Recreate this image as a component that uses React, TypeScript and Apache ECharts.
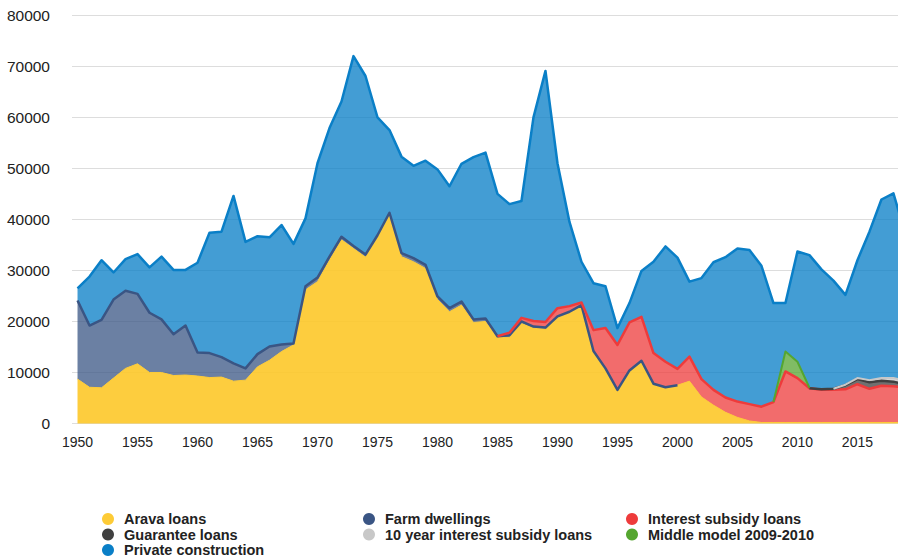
import React, { useEffect, useRef } from "react";
import * as echarts from "echarts";

const years = [
  1950, 1951, 1952, 1953, 1954, 1955, 1956, 1957, 1958, 1959,
  1960, 1961, 1962, 1963, 1964, 1965, 1966, 1967, 1968, 1969,
  1970, 1971, 1972, 1973, 1974, 1975, 1976, 1977, 1978, 1979,
  1980, 1981, 1982, 1983, 1984, 1985, 1986, 1987, 1988, 1989,
  1990, 1991, 1992, 1993, 1994, 1995, 1996, 1997, 1998, 1999,
  2000, 2001, 2002, 2003, 2004, 2005, 2006, 2007, 2008, 2009,
  2010, 2011, 2012, 2013, 2014, 2015, 2016, 2017, 2018, 2019,
];

const xTickLabels = [1950, 1955, 1960, 1965, 1970, 1975, 1980, 1985, 1990, 1995, 2000, 2005, 2010, 2015];

const aravaLoans = [
  8700, 7100, 7000, 8900, 10800, 11700, 10000, 10000, 9400, 9500,
  9300, 9000, 9100, 8300, 8500, 11100, 12400, 14100, 15400, 26200,
  27800, 32000, 36000, 34300, 32600, 36500, 41000, 32700, 31700, 30400,
  24300, 21900, 23200, 19800, 20000, 16800, 16900, 19600, 18700, 18500,
  20700, 21700, 23000, 14000, 10600, 6500, 10200, 12200, 7600, 7000,
  7500, 8300, 5200, 3600, 2200, 1200, 500, 200, 200, 200,
  200, 200, 200, 200, 200, 200, 200, 200, 200, 200,
];

const farmDwellings = [
  15400, 12100, 13300, 15400, 15200, 13700, 11700, 10400, 8100, 9700,
  4600, 4800, 3900, 3500, 2300, 2500, 2700, 1400, 300, 700,
  800, 700, 600, 500, 500, 400, 300, 700, 700, 700,
  600, 700, 700, 600, 600, 300, 400, 400, 300, 300,
  300, 200, 200, 200, 200, 100, 200, 100, 200, 100,
  0, null, null, null, null, null, null, null, null, null,
  null, null, null, null, null, null, null, null, null, null,
];

const interestSubsidyLoans = [
  null, null, null, null, null, null, null, null, null, null,
  null, null, null, null, null, null, null, null, null, null,
  null, null, null, null, null, null, null, null, null, null,
  null, null, null, null, null, 0, 500, 700, 1100, 1100,
  1600, 1100, 500, 4100, 7900, 8800, 9400, 8600, 6000, 5000,
  3200, 4800, 3500, 3000, 2900, 3100, 3300, 3100, 4000, 10000,
  8700, 6700, 6400, 6400, 6500, 7500, 6600, 7200, 7100, 6800,
];

const guaranteeLoans = [
  null, null, null, null, null, null, null, null, null, null,
  null, null, null, null, null, null, null, null, null, null,
  null, null, null, null, null, null, null, null, null, null,
  null, null, null, null, null, null, null, null, null, null,
  null, null, null, null, null, null, null, null, null, null,
  null, null, null, null, null, null, null, null, null, null,
  null, 0, 100, 200, 800, 1000, 1300, 1000, 900, 600,
];

const tenYearSubsidyLoans = [
  null, null, null, null, null, null, null, null, null, null,
  null, null, null, null, null, null, null, null, null, null,
  null, null, null, null, null, null, null, null, null, null,
  null, null, null, null, null, null, null, null, null, null,
  null, null, null, null, null, null, null, null, null, null,
  null, null, null, null, null, null, null, null, null, null,
  null, null, null, 0, 100, 200, 400, 500, 700, 800,
];

const middleModel = [
  null, null, null, null, null, null, null, null, null, null,
  null, null, null, null, null, null, null, null, null, null,
  null, null, null, null, null, null, null, null, null, null,
  null, null, null, null, null, null, null, null, null, null,
  null, null, null, null, null, null, null, null, null, null,
  null, null, null, null, null, null, null, null, 0, 3900,
  3200, 100, null, null, null, null, null, null, null, null,
];

const privateConstruction = [
  2400, 9600, 11700, 5300, 6200, 7800, 8900, 12300, 12600, 10900,
  17600, 23600, 24600, 32800, 24800, 23100, 21400, 23400, 19500, 13300,
  22400, 25200, 26500, 37200, 35000, 23100, 16200, 18900, 18100, 20400,
  24900, 23900, 27000, 31800, 32500, 27900, 25200, 22900, 39900, 49200,
  28400, 16500, 8000, 9200, 8200, 3300, 3800, 9000, 17900, 22600,
  21800, 14700, 19800, 25000, 27500, 30000, 30200, 27600, 19400, 9500,
  21600, 26000, 23500, 21200, 17600, 23100, 29100, 35000, 36200, 28600,
];

const seriesDefs = [
  { name: "Arava loans", data: aravaLoans, line: "#FDCB36", fill: "rgba(253,200,41,0.9)", width: 1 },
  { name: "Farm dwellings", data: farmDwellings, line: "#3A5584", fill: "rgba(58,85,132,0.75)", width: 2.5 },
  { name: "Interest subsidy loans", data: interestSubsidyLoans, line: "#EE3B3B", fill: "rgba(238,59,59,0.75)", width: 2.5 },
  { name: "Guarantee loans", data: guaranteeLoans, line: "#404040", fill: "rgba(64,64,64,0.75)", width: 2.5 },
  { name: "10 year interest subsidy loans", data: tenYearSubsidyLoans, line: "#C8C8C8", fill: "rgba(200,200,200,0.75)", width: 2 },
  { name: "Middle model 2009-2010", data: middleModel, line: "#55A630", fill: "rgba(85,166,48,0.75)", width: 2 },
  { name: "Private construction", data: privateConstruction, line: "#0A7FC7", fill: "rgba(10,127,199,0.77)", width: 2.5 },
];

const legendColumns = [
  { left: 102, names: ["Arava loans", "Guarantee loans", "Private construction"] },
  { left: 363, names: ["Farm dwellings", "10 year interest subsidy loans"] },
  { left: 626, names: ["Interest subsidy loans", "Middle model 2009-2010"] },
];

export default function App() {
  const ref = useRef<HTMLDivElement>(null);

  useEffect(() => {
    if (!ref.current) return;
    const chart = echarts.init(ref.current, null, { renderer: "svg" });
    const font = "'Liberation Sans', Arial, sans-serif";
    chart.setOption({
      animation: false,
      textStyle: { fontFamily: font },
      grid: { left: 72, right: 0, top: 15.3, bottom: 134.5, containLabel: false, outerBoundsMode: "none" },
      xAxis: {
        type: "value",
        min: 1949.54,
        max: 2018.38,
        axisLine: { show: false },
        axisTick: { show: false },
        splitLine: { show: false },
        axisLabel: {
          customValues: xTickLabels,
          formatter: (v: number) => String(v),
          fontSize: 14,
          color: "#222",
          margin: 11,
          fontFamily: font,
        },
      },
      yAxis: {
        type: "value",
        min: 0,
        max: 80000,
        interval: 10000,
        axisLine: { show: false },
        axisTick: { show: false },
        splitLine: { lineStyle: { color: "#DDDDDD", width: 1 } },
        axisLabel: {
          formatter: (v: number) => String(v),
          fontSize: 15.5,
          color: "#222",
          margin: 22,
          fontFamily: font,
        },
      },
      legend: legendColumns.map((col) => ({
        orient: "vertical",
        left: col.left,
        top: 511.5,
        padding: 0,
        itemGap: 0.5,
        itemWidth: 12,
        itemHeight: 12,
        icon: "circle",
        selectedMode: false,
        data: col.names,
        textStyle: {
          fontSize: 14.5,
          fontWeight: "bold",
          color: "#222",
          lineHeight: 15,
          fontFamily: font,
          padding: [0, 0, 0, 5],
        },
      })),
      series: seriesDefs.map((s) => ({
        name: s.name,
        type: "line",
        stack: "total",
        symbol: "none",
        showSymbol: false,
        clip: true,
        // value first so that the stack is computed on the value (y) dimension
        encode: { x: 1, y: 0 },
        itemStyle: { color: s.line },
        lineStyle: { color: s.line, width: s.width, join: "round" },
        areaStyle: { color: s.fill, opacity: 1 },
        data: years.map((y, i) => [s.data[i], y]),
      })),
    });
    return () => chart.dispose();
  }, []);

  return (
    <div
      ref={ref}
      style={{ position: "absolute", left: 0, top: 0, width: 898, height: 558, background: "#fff" }}
    />
  );
}
